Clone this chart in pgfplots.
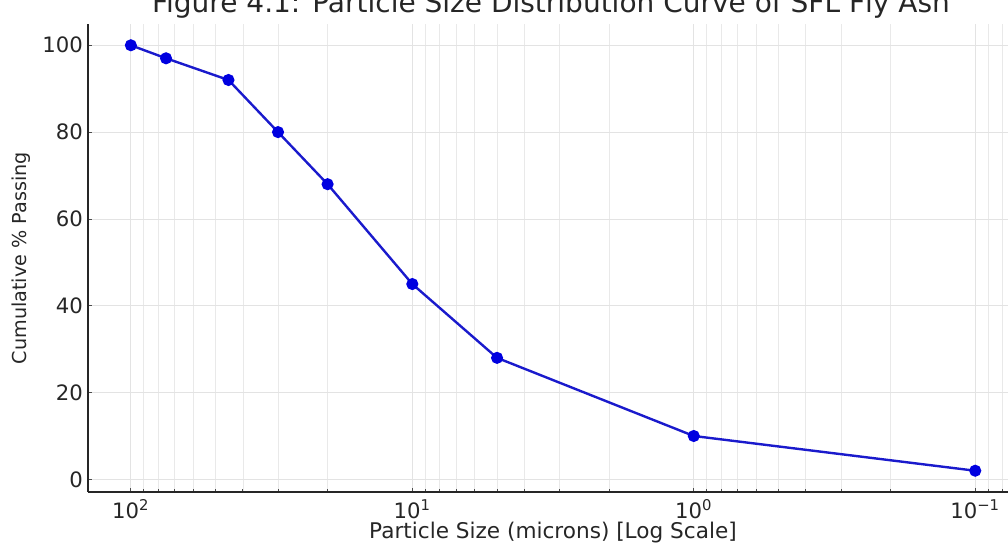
\documentclass[border=0pt]{standalone}
\usepackage{fontspec}
\setmainfont{DejaVu Sans}
\usepackage{pgfplots}
\pgfplotsset{compat=1.18}

\definecolor{lineblue}{HTML}{1A1ACC}
\definecolor{ptblue}{HTML}{0000E0}

\begin{document}
\begin{tikzpicture}[x=1pt,y=1pt]
  % 1 px of the reference = 0.5pt
  \begin{axis}[
      at={(44pt,27.5pt)}, anchor=south west,
      scale only axis,
      width=465pt, height=234pt,
      xmode=log,
      x dir=reverse,
      xmin=0.0705, xmax=142,
      ymin=-2.9, ymax=104.9,
      xtick={100,10,1,0.1},
      xticklabels={10\textsuperscript{2},10\textsuperscript{1},10\textsuperscript{0},10\textsuperscript{−1}},
      minor xtick={0.08,0.09,0.2,0.3,0.4,0.5,0.6,0.7,0.8,0.9,2,3,4,5,6,7,8,9,20,30,40,50,60,70,80,90},
      ytick={0,20,40,60,80,100},
      /pgf/number format/assume math mode=true,
      axis x line*=bottom,
      axis y line*=left,
      axis line style={line width=0.7pt, black!85, -},
      tick align=inside,
      major tick length=2.2pt,
      minor tick length=1.6pt,
      tick style={black!70, line width=0.4pt},
      xmajorgrids=true, xminorgrids=true,
      ymajorgrids=true,
      major grid style={gray!22, line width=0.4pt},
      minor grid style={gray!17, line width=0.35pt},
      ticklabel style={font=\fontsize{10.6}{12}\selectfont, text=black!85},
      xticklabel style={yshift=-0.3pt},
      yticklabel style={xshift=1pt},
      xlabel={Particle Size (microns) [Log Scale]},
      ylabel={Cumulative \% Passing},
      xlabel style={font=\fontsize{10.8}{12}\selectfont, text=black!85, yshift=5.5pt},
      ylabel style={font=\fontsize{9.6}{11}\selectfont, text=black!85, yshift=-1pt},
      clip=false,
    ]
    \addplot[color=lineblue, line width=1.2pt, mark=*, mark size=2.4pt,
             mark options={fill=ptblue, draw=ptblue}]
      coordinates {(100,100) (75,97) (45,92) (30,80) (20,68) (10,45) (5,28) (1,10) (0.1,2)};
  \end{axis}
  \node[font=\fontsize{14}{16}\selectfont, text=black!85, anchor=base]
    at (275.5pt,267pt) {Figure 4.1: Particle Size Distribution Curve of SFL Fly Ash};
  \pgfresetboundingbox
  \useasboundingbox (0,0) rectangle (504pt,273.5pt);
\end{tikzpicture}
\end{document}
